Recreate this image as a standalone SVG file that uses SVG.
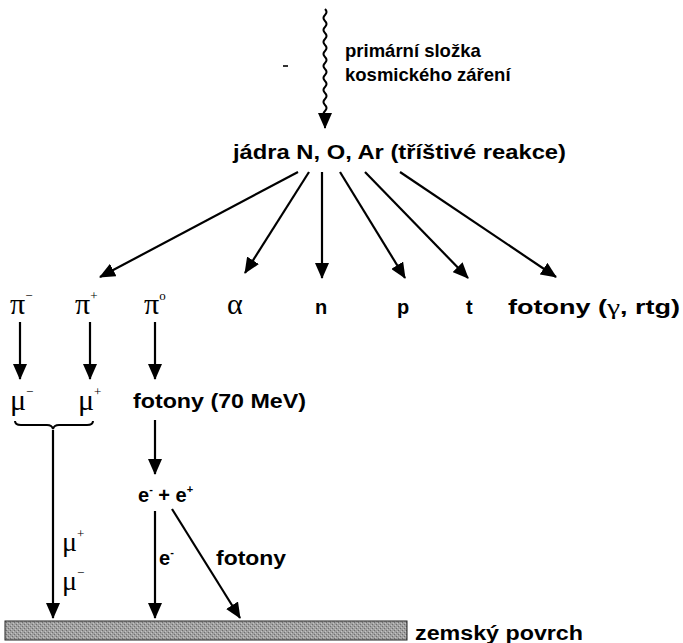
<svg xmlns="http://www.w3.org/2000/svg" width="683" height="643" viewBox="0 0 683 643">
<defs>
<marker id="ah" viewBox="0 0 16 14" refX="15" refY="7" markerWidth="16" markerHeight="14" markerUnits="userSpaceOnUse" orient="auto">
<path d="M0,0 L16,7 L0,14 Z" fill="#000"/>
</marker>
<pattern id="grain" width="4" height="4" patternUnits="userSpaceOnUse">
<rect width="4" height="4" fill="#a0a0a0"/>
<rect x="0" y="0" width="1" height="1" fill="#6e6e6e"/>
<rect x="2" y="2" width="1" height="1" fill="#6e6e6e"/>
<rect x="1" y="3" width="1" height="1" fill="#c4c4c4"/>
<rect x="3" y="1" width="1" height="1" fill="#c4c4c4"/>
</pattern>
</defs>
<style>
.b{font-family:"Liberation Sans",Arial,sans-serif;font-weight:bold;fill:#000}
.g{font-family:"Liberation Serif","Times New Roman",serif;fill:#000}
.ln{stroke:#000;stroke-width:2;fill:none}
.ar{stroke:#000;stroke-width:2.2;fill:none;marker-end:url(#ah)}
</style>
<rect width="683" height="643" fill="#fff"/>

<g id="source">
<path class="ln" d="M325,9 q3,3 0,6 q-3,3 0,6 q3,3 0,6 q-3,3 0,6 q3,3 0,6 q-3,3 0,6 q3,3 0,6 q-3,3 0,6 q3,3 0,6 q-3,3 0,6 q3,3 0,6 q-3,3 0,6 q3,3 0,6 q-3,3 0,6 q3,3 0,6 q-3,3 0,6 q3,3 0,6 q-3,3 0,6 l0,11" stroke-width="1.8" marker-end="url(#ah)"/>
<text class="b" x="345" y="57" font-size="18.5">primární složka</text>
<text class="b" x="345" y="81" font-size="18.5">kosmického záření</text>
<line x1="283" y1="66" x2="288" y2="66" stroke="#333" stroke-width="2"/>
</g>

<g id="nuclei">
<text class="b" x="233" y="159" font-size="20.5" textLength="333" lengthAdjust="spacingAndGlyphs">jádra N, O, Ar (tříštivé reakce)</text>
</g>

<g id="products">
<text class="g" x="10" y="314" font-size="30">π<tspan font-size="13" dy="-14">−</tspan></text>
<text class="g" x="75" y="314" font-size="30">π<tspan font-size="13" dy="-14">+</tspan></text>
<text class="g" x="144" y="314" font-size="30">π<tspan font-size="13" dy="-14">o</tspan></text>
<text class="g" x="227" y="314" font-size="30">α</text>
<text class="b" x="315" y="314" font-size="20">n</text>
<text class="b" x="397" y="314" font-size="20">p</text>
<text class="b" x="466" y="314" font-size="20">t</text>
<text class="b" x="508" y="314" font-size="20" textLength="172" lengthAdjust="spacingAndGlyphs">fotony (<tspan class="g" font-weight="normal" font-size="22">γ</tspan>, rtg)</text>
</g>

<g id="second">
<text class="g" x="10" y="410" font-size="30">μ<tspan font-size="13" dy="-14">−</tspan></text>
<text class="g" x="78" y="410" font-size="30">μ<tspan font-size="13" dy="-14">+</tspan></text>
<text class="b" x="133" y="408" font-size="20" textLength="173" lengthAdjust="spacingAndGlyphs">fotony (70 MeV)</text>
</g>

<g id="pair">
<text class="b" x="138" y="502" font-size="20">e<tspan font-size="11" dy="-9">-</tspan><tspan dy="9"> + e</tspan><tspan font-size="11" dy="-9">+</tspan></text>
</g>

<g id="labels">
<text class="g" x="62" y="551" font-size="28">μ<tspan font-size="13" dy="-13">+</tspan></text>
<text class="g" x="62" y="590" font-size="28">μ<tspan font-size="13" dy="-13">−</tspan></text>
<text class="b" x="159" y="565" font-size="20">e<tspan font-size="11" dy="-9">-</tspan></text>
<text class="b" x="216" y="565" font-size="20" textLength="70" lengthAdjust="spacingAndGlyphs">fotony</text>
</g>

<g id="ground">
<rect x="5" y="621" width="402" height="19" fill="url(#grain)" stroke="#222" stroke-width="1"/>
<text class="b" x="415" y="640" font-size="20" textLength="168" lengthAdjust="spacingAndGlyphs">zemský povrch</text>
</g>

<g id="connectors">
<line class="ar" x1="298" y1="172" x2="100" y2="277"/>
<line class="ar" x1="309" y1="172" x2="245" y2="273"/>
<line class="ar" x1="322" y1="172" x2="322" y2="278"/>
<line class="ar" x1="340" y1="172" x2="405" y2="278"/>
<line class="ar" x1="365" y1="172" x2="468" y2="278"/>
<line class="ar" x1="400" y1="172" x2="556" y2="277"/>
<line class="ar" x1="20" y1="322" x2="20" y2="379"/>
<line class="ar" x1="90" y1="322" x2="90" y2="379"/>
<line class="ar" x1="155" y1="322" x2="155" y2="379"/>
<path class="ln" d="M15,421 q0,4 6,4 l26,0 q5,0 6,4 q1,-4 6,-4 l28,0 q6,0 6,-4"/>
<line class="ar" x1="53" y1="430" x2="53" y2="618"/>
<line class="ar" x1="155" y1="420" x2="155" y2="474"/>
<line class="ar" x1="155" y1="511" x2="155" y2="618"/>
<line class="ar" x1="172" y1="509" x2="240" y2="618"/>
</g>
</svg>
